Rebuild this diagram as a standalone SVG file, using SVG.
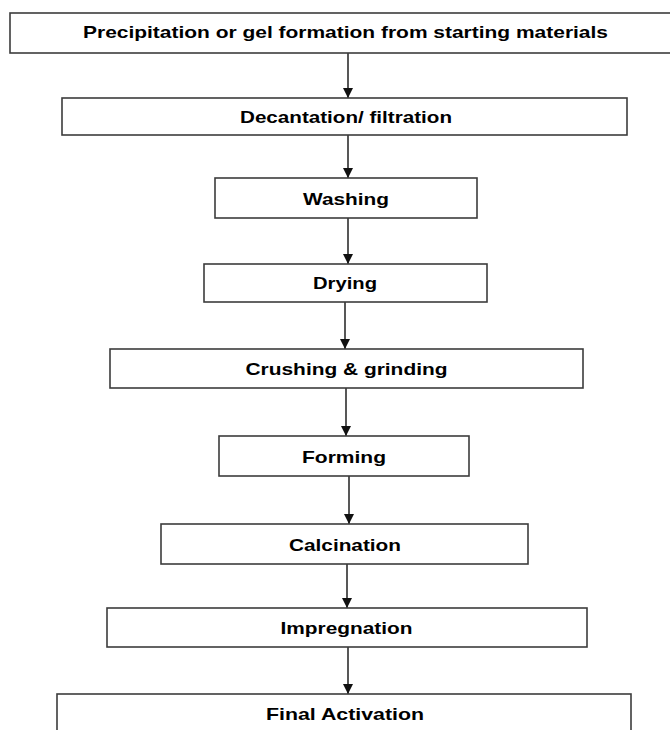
<svg xmlns="http://www.w3.org/2000/svg" width="670" height="730" viewBox="0 0 670 730">
<defs>
<marker id="ah" markerUnits="userSpaceOnUse" markerWidth="10" markerHeight="10" refX="10" refY="5" orient="auto">
<path d="M0,0 L10,5 L0,10 z" fill="#111"/>
</marker>
<style>
.box{fill:#fff;stroke:#3c3c3c;stroke-width:1.6}
.lbl{font-family:"Liberation Sans",Arial,sans-serif;font-weight:bold;font-size:17px;fill:#000;text-anchor:middle}
.con{stroke:#111;stroke-width:1.4;fill:none}
</style>
</defs>
<rect width="670" height="730" fill="#fff"/>
<g id="connectors">
<line class="con" x1="348" y1="53" x2="348" y2="98" marker-end="url(#ah)"/>
<line class="con" x1="348" y1="135" x2="348" y2="178" marker-end="url(#ah)"/>
<line class="con" x1="348" y1="218" x2="348" y2="264" marker-end="url(#ah)"/>
<line class="con" x1="345" y1="302" x2="345" y2="349" marker-end="url(#ah)"/>
<line class="con" x1="346" y1="388" x2="346" y2="436" marker-end="url(#ah)"/>
<line class="con" x1="349" y1="476" x2="349" y2="524" marker-end="url(#ah)"/>
<line class="con" x1="347" y1="564" x2="347" y2="608" marker-end="url(#ah)"/>
<line class="con" x1="348" y1="647" x2="348" y2="694" marker-end="url(#ah)"/>
</g>
<g id="n1"><rect class="box" x="10" y="13" width="664" height="40"/><text class="lbl" x="345.5" y="38" textLength="525" lengthAdjust="spacingAndGlyphs">Precipitation or gel formation from starting materials</text></g>
<g id="n2"><rect class="box" x="62" y="98" width="565" height="37"/><text class="lbl" x="346" y="123" textLength="212" lengthAdjust="spacingAndGlyphs">Decantation/ filtration</text></g>
<g id="n3"><rect class="box" x="215" y="178" width="262" height="40"/><text class="lbl" x="346" y="205" textLength="86" lengthAdjust="spacingAndGlyphs">Washing</text></g>
<g id="n4"><rect class="box" x="204" y="264" width="283" height="38"/><text class="lbl" x="345" y="289" textLength="64" lengthAdjust="spacingAndGlyphs">Drying</text></g>
<g id="n5"><rect class="box" x="110" y="349" width="473" height="39"/><text class="lbl" x="346.5" y="374.5" textLength="202" lengthAdjust="spacingAndGlyphs">Crushing &amp; grinding</text></g>
<g id="n6"><rect class="box" x="219" y="436" width="250" height="40"/><text class="lbl" x="344" y="463" textLength="84" lengthAdjust="spacingAndGlyphs">Forming</text></g>
<g id="n7"><rect class="box" x="161" y="524" width="367" height="40"/><text class="lbl" x="345" y="550.5" textLength="112" lengthAdjust="spacingAndGlyphs">Calcination</text></g>
<g id="n8"><rect class="box" x="107" y="608" width="480" height="39"/><text class="lbl" x="346.5" y="634" textLength="132" lengthAdjust="spacingAndGlyphs">Impregnation</text></g>
<g id="n9"><rect class="box" x="57" y="694" width="574" height="50"/><text class="lbl" x="345" y="720" textLength="158" lengthAdjust="spacingAndGlyphs">Final Activation</text></g>
</svg>
